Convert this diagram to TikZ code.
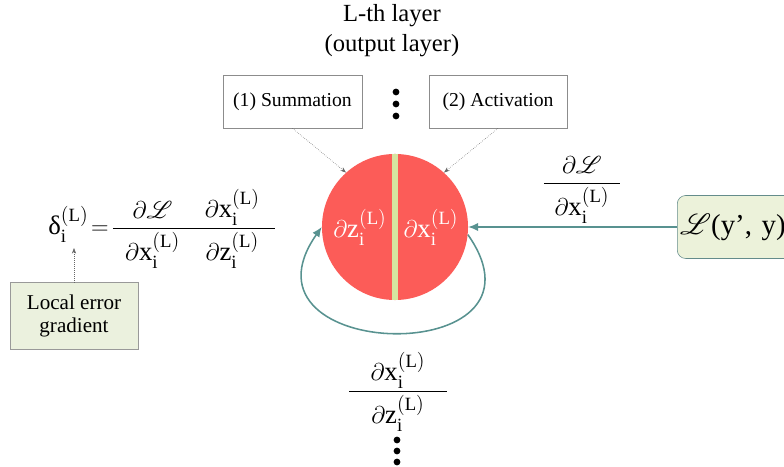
\documentclass[tikz,border=0pt]{standalone}
\usepackage{amsmath}
\usepackage{mathrsfs}
\usepackage{fontspec}
\setmainfont{Liberation Serif}
\usetikzlibrary{arrows.meta, positioning}

\definecolor{neured}{RGB}{252,92,88}
\definecolor{stripg}{RGB}{214,228,160}
\definecolor{lossteal}{RGB}{88,146,144}
\definecolor{paleg}{RGB}{235,241,222}
\definecolor{lossfill}{RGB}{236,242,218}

% partial of a layer-L quantity
\newcommand{\pdL}[1]{\partial\mathrm{#1}_{\mathrm{i}}^{(\mathrm{L})}}
% fraction with a wide bar
\newcommand{\pfrac}[3][10]{\dfrac{\mkern#1mu#2\mkern#1mu}{\mkern#1mu#3\mkern#1mu}}

\begin{document}
\begin{tikzpicture}[x=0.025cm, y=0.025cm,
  lbl/.style={rectangle, draw=gray!90, minimum width=3.475cm, minimum height=1.325cm,
              font=\fontsize{14}{16}\selectfont},
  note/.style={rectangle, draw=gray!80, fill=paleg, align=center, minimum width=3.2cm,
               minimum height=1.675cm, font=\fontsize{15}{16.5}\selectfont},
  mth/.style={font=\fontsize{19}{22}\selectfont, inner sep=0pt},
  dotarr/.style={-{Stealth[length=4pt]}, densely dotted, gray!80!black, thin},
  flow/.style={-{Latex[length=7pt, width=6pt]}, lossteal, line width=1.1pt}
]
  \useasboundingbox (0,0) rectangle (784,467);
  \clip (0,0) rectangle (784,467);

  \node[align=center, font=\fontsize{17.5}{21.3}\selectfont] (title) at (392,436) {L-th layer\\(output layer)};

  \node[lbl] (sum) at (292.5,365.5) {(1) Summation};
  \node[lbl, minimum width=3.45cm] (act) at (498,365.5) {(2) Activation};
  \foreach \y in {375,363,351} \fill (396,\y) circle (2.4pt);

  % the neuron
  \node[circle, fill=neured, minimum size=3.65cm, inner sep=0pt] (neuron) at (395,240) {};
  \draw[stripg, line width=3.6pt] (neuron.north) -- (neuron.south);
  \node[mth, text=white, anchor=base] (zin)  at (360,229) {$\pdL{z}$};
  \node[mth, text=white, anchor=base] (xout) at (431,229) {$\pdL{x}$};

  \draw[dotarr] (sum.south) -- (neuron.132);
  \draw[dotarr] (act.south) -- (neuron.48);

  % loss
  \node[rectangle, rounded corners=6pt, draw=lossteal!70!gray, fill=lossfill, anchor=west,
        minimum height=1.575cm, text width=3.4cm, inner xsep=2pt,
        font=\fontsize{20.5}{23}\selectfont] (loss) at (677,240) {$\mathscr{L}$(y’, y)};
  \draw[flow] (loss.west) -- (neuron.east);
  \node[mth, anchor=base] (dldx) at (582,277) {$\pfrac[8]{\partial\mathscr{L}}{\pdL{x}}$};

  \draw[flow] (neuron.-6) to[out=-55, in=-125, distance=4.15cm] (neuron.west);
  \node[mth, anchor=base] (dxdz) at (398,69) {$\pfrac[16]{\pdL{x}}{\pdL{z}}$};
  \foreach \y in {27,16,5} \fill (397,\y) circle (2.4pt);

  % local error gradient
  \node[mth, anchor=base west] (grad) at (48,232)
    {$\text{δ}_{\mathrm{i}}^{(\mathrm{L})}\mkern2mu{=}\mkern2mu\pfrac[9]{\partial\mathscr{L}}{\pdL{x}}\mkern-4mu\pfrac[11]{\pdL{x}}{\pdL{z}}$};
  \node[note] (lerr) at (74,151) {Local error\\gradient};
  \coordinate (deltatip) at (74,219);
  \draw[dotarr] (lerr.north) -- (deltatip);
\end{tikzpicture}
\end{document}
